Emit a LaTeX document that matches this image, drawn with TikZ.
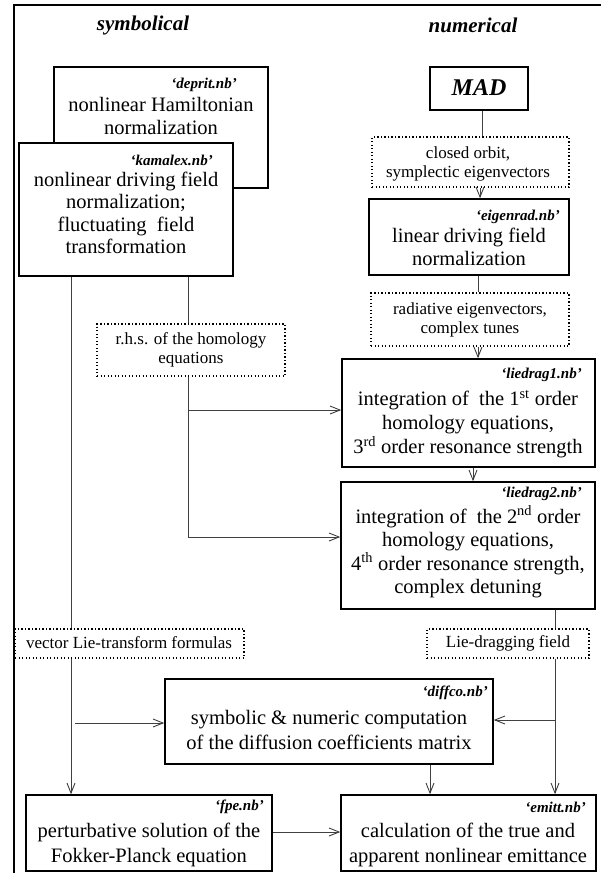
\documentclass[tikz,border=0pt]{standalone}
\usepackage{fontspec}
\setmainfont{Liberation Serif}
\usetikzlibrary{fit,arrows.meta}
\tikzset{
  box/.style={draw, line width=1.5pt, fill=white, inner sep=0pt},
  dotbox/.style={draw, line width=1.1pt, dash pattern=on 1.3pt off 2.2pt, inner sep=0pt},
  maintxt/.style={align=center, inner sep=0pt, font=\fontsize{20.5}{23}\selectfont},
  smalltxt/.style={align=center, inner sep=0pt, font=\fontsize{17}{19.5}\selectfont},
  labtxt/.style={anchor=east, inner sep=0pt, font=\fontsize{15}{18}\selectfont\bfseries\itshape},
  titletxt/.style={inner sep=0pt, font=\fontsize{21}{25}\selectfont\bfseries\itshape},
  conn/.style={draw=black!75, line width=0.9pt},
  arr/.style={conn, -{Straight Barb[length=10pt,width=8pt]}}
}
\begin{document}
\begin{tikzpicture}[x=1pt,y=-1pt]
\useasboundingbox (0,0) rectangle (601,873);
% frame
\draw[line width=2pt] (14,873) -- (14,5) -- (601,5);
% titles
\node[titletxt] (tsym) at (143,25) {symbolical};
\node[titletxt] (tnum) at (473,25) {numerical};
% symbolic column
\node[box, fit={(54,67) (268,188)}] (deprit) {};
\node[labtxt] (deprit-l) at (237,85) {`deprit.nb'};
\node[maintxt] (deprit-t) at (161,116) {nonlinear Hamiltonian\\normalization};
\node[box, fit={(19,143) (233,276)}] (kamalex) {};
\node[labtxt] (kamalex-l) at (213,160) {`kamalex.nb'};
\node[maintxt, font=\fontsize{20.5}{22.3}\selectfont] (kamalex-t) at (126,213) {nonlinear driving field\\normalization;\\fluctuating~ field\\transformation};
\node[dotbox, fit={(97,324) (285,376)}] (rhs) {};
\node[smalltxt] (rhs-t) at (191,350) {r.h.s. of the homology\\equations};
% numeric column
\node[box, fit={(430,67) (528,110)}] (mad) {};
\node[titletxt, font=\fontsize{24}{28}\selectfont\bfseries\itshape] (mad-t) at (479,88) {MAD};
\node[dotbox, fit={(372,137) (569,187)}] (d1) {};
\node[smalltxt] (d1-t) at (468,164) {closed orbit,\\symplectic eigenvectors};
\node[box, fit={(369,199) (569,275)}] (eigen) {};
\node[labtxt] (eigen-l) at (560,217) {`eigenrad.nb'};
\node[maintxt] (eigen-t) at (469,247) {linear driving field\\normalization};
\node[dotbox, fit={(371,293) (569,346)}] (d2) {};
\node[smalltxt] (d2-t) at (470,320) {radiative eigenvectors,\\complex tunes};
\node[box, fit={(342,359) (595,467)}] (lie1) {};
\node[labtxt] (lie1-l) at (582,375) {`liedrag1.nb'};
\node[maintxt, font=\fontsize{20.5}{24}\selectfont] (lie1-t) at (468,424) {integration of~ the 1\textsuperscript{st} order\\homology equations,\\3\textsuperscript{rd} order resonance strength};
\node[box, fit={(341,482) (595,609)}] (lie2) {};
\node[labtxt] (lie2-l) at (582,494) {`liedrag2.nb'};
\node[maintxt, font=\fontsize{20.5}{23.5}\selectfont] (lie2-t) at (468,552) {integration of~ the 2\textsuperscript{nd} order\\homology equations,\\4\textsuperscript{th} order resonance strength,\\complex detuning};
\node[dotbox, fit={(15,629) (244,658)}] (vec) {};
\node[smalltxt] (vec-t) at (129,643) {vector Lie-transform formulas};
\node[dotbox, fit={(427,629) (589,658)}] (ldf) {};
\node[smalltxt] (ldf-t) at (508,643) {Lie-dragging field};
\node[box, fit={(165,679) (493,764)}] (diffco) {};
\node[labtxt] (diffco-l) at (488,693) {`diffco.nb'};
\node[maintxt, font=\fontsize{20.5}{25}\selectfont] (diffco-t) at (329,730) {symbolic \& numeric computation\\of the diffusion coefficients matrix};
\node[box, fit={(26,795) (272,871)}] (fpe) {};
\node[labtxt] (fpe-l) at (264,807) {`fpe.nb'};
\node[maintxt, font=\fontsize{20.5}{25}\selectfont] (fpe-t) at (149,845) {perturbative solution of the\\Fokker-Planck equation};
\node[box, fit={(341,795) (596,871)}] (emitt) {};
\node[labtxt] (emitt-l) at (586,807) {`emitt.nb'};
\node[maintxt, font=\fontsize{20.5}{25}\selectfont] (emitt-t) at (468,845) {calculation of the true and\\apparent nonlinear emittance};
% connectors symbolic side
\draw[conn] (71,0 |- kamalex.south) -- (71,0 |- vec.north);
\draw[arr] (71,0 |- vec.south) -- (71,0 |- fpe.north);
\coordinate (lstart) at (75,723);
\draw[arr] (lstart) -- (diffco.west |- lstart);
\draw[conn] (188,0 |- kamalex.south) -- (188,0 |- rhs.north);
\coordinate (rj1) at (188,410);
\coordinate (rj2) at (188,537);
\draw[conn] (188,0 |- rhs.south) -- (rj2);
\draw[arr] (rj1) -- (lie1.west |- rj1);
\draw[arr] (rj2) -- (lie2.west |- rj2);
% connectors numeric side
\draw[conn] (482,0 |- mad.south) -- (482,0 |- d1.north);
\draw[arr] (480,0 |- d1.south) -- (480,0 |- eigen.north);
\draw[conn] (478,0 |- eigen.south) -- (478,0 |- d2.north);
\draw[arr] (478,0 |- d2.south) -- (478,0 |- lie1.north);
\draw[arr] (473,0 |- lie1.south) -- (473,0 |- lie2.north);
\draw[conn] (555,0 |- lie2.south) -- (555,0 |- ldf.north);
\draw[arr] (555,0 |- ldf.south) -- (555,0 |- emitt.north);
\coordinate (rj3) at (555,720);
\draw[arr] (rj3) -- (diffco.east |- rj3);
\draw[arr] (430,0 |- diffco.south) -- (430,0 |- emitt.north);
\draw[arr] (fpe.east |- 0,832) -- (emitt.west |- 0,832);
\end{tikzpicture}
\end{document}
